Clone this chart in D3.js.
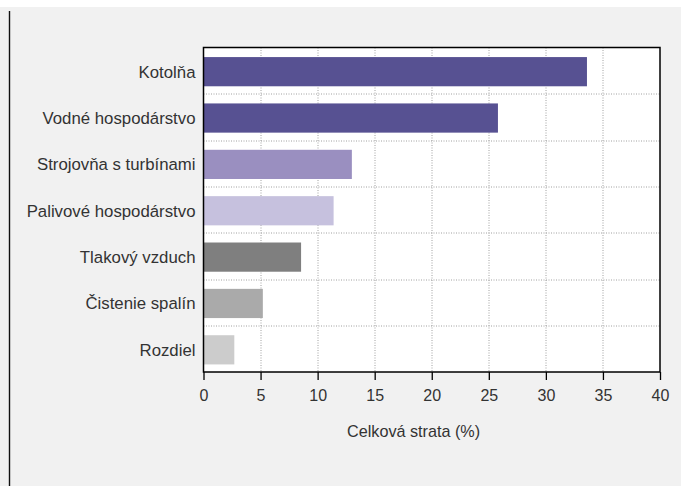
<!DOCTYPE html>
<html>
<head>
<meta charset="utf-8">
<script src="https://cdn.jsdelivr.net/npm/d3@7"></script>
<style>
  body { margin: 0; background: #fff; }
  text { font-family: "Liberation Sans", Arial, Helvetica, sans-serif; fill: #333; }
</style>
</head>
<body>
<div id="chart"></div>
<script>
// chart data
var categories = ["Kotolňa", "Vodné hospodárstvo", "Strojovňa s turbínami", "Palivové hospodárstvo",
  "Tlakový vzduch", "Čistenie spalín", "Rozdiel"];
var values = [33.6, 25.8, 13.0, 11.4, 8.55, 5.2, 2.7];
var barColors = ["#575192", "#575192", "#9a8fc0", "#c6c1de", "#7f7f7f", "#aaaaaa", "#cccccc"];
var xTicks = [0, 5, 10, 15, 20, 25, 30, 35, 40];
var xTitle = "Celková strata (%)";

var svgWidth = 681;
var svgHeight = 486;

var margin = { top: 47.5, right: 21, bottom: 114, left: 203.5 };
var chartWidth = svgWidth - margin.left - margin.right;
var chartHeight = svgHeight - margin.top - margin.bottom;

var svg = d3.select("#chart")
  .append("svg")
  .attr("width", svgWidth)
  .attr("height", svgHeight);

// panel background
svg.append("rect")
  .attr("x", 0)
  .attr("y", 7)
  .attr("width", svgWidth)
  .attr("height", svgHeight - 7)
  .attr("fill", "#f1f1f1");

// left rule
svg.append("line")
  .attr("x1", 9.5).attr("x2", 9.5)
  .attr("y1", 11).attr("y2", svgHeight)
  .attr("stroke", "#111")
  .attr("stroke-width", 1.4);

var chartGroup = svg.append("g")
  .attr("transform", `translate(${margin.left}, ${margin.top})`);

var xScale = d3.scaleLinear()
  .domain([0, 40])
  .range([0, chartWidth]);

var yScale = d3.scaleBand()
  .domain(categories)
  .range([0, chartHeight])
  .paddingInner(0.37)
  .paddingOuter(0.185);

// plot background
chartGroup.append("rect")
  .attr("width", chartWidth)
  .attr("height", chartHeight)
  .attr("fill", "#fff");

// vertical grid
chartGroup.selectAll(".vgrid")
  .data(xTicks.slice(1, -1))
  .enter()
  .append("line")
  .attr("x1", d => Math.round(xScale(d)) + 0.5)
  .attr("x2", d => Math.round(xScale(d)) + 0.5)
  .attr("y1", 0)
  .attr("y2", chartHeight)
  .attr("stroke", "#a0a0a0")
  .attr("stroke-dasharray", "1,1.5");

// horizontal grid at band boundaries
var step = yScale.step();
var hLines = d3.range(1, categories.length);
chartGroup.selectAll(".hgrid")
  .data(hLines)
  .enter()
  .append("line")
  .attr("x1", 0)
  .attr("x2", chartWidth)
  .attr("y1", d => Math.round(d * step) + 0.5)
  .attr("y2", d => Math.round(d * step) + 0.5)
  .attr("stroke", "#a0a0a0")
  .attr("stroke-dasharray", "1,1.5");

// bars
chartGroup.selectAll(".bar")
  .data(values)
  .enter()
  .append("rect")
  .attr("x", 0)
  .attr("y", (d, i) => yScale(categories[i]) + 1)
  .attr("width", d => xScale(d))
  .attr("height", yScale.bandwidth())
  .attr("fill", (d, i) => barColors[i]);

// frame
chartGroup.append("rect")
  .attr("width", chartWidth)
  .attr("height", chartHeight)
  .attr("fill", "none")
  .attr("stroke", "#000")
  .attr("stroke-width", 1.5);

// x axis
var bottomAxis = d3.axisBottom(xScale)
  .tickValues(xTicks)
  .tickSize(8)
  .tickPadding(10)
  .tickFormat(d3.format("d"));

var xAxis = chartGroup.append("g")
  .attr("transform", `translate(0, ${chartHeight})`)
  .call(bottomAxis);
xAxis.select(".domain").remove();
xAxis.selectAll(".tick line").attr("stroke", "#000").attr("stroke-width", 1.3);
xAxis.selectAll(".tick text")
  .style("font-size", "16px")
  .style("font-family", "'Liberation Sans', Arial, sans-serif")
  .attr("fill", "#333");

// category labels
chartGroup.selectAll(".catLabel")
  .data(categories)
  .enter()
  .append("text")
  .attr("x", -8)
  .attr("y", d => yScale(d) + yScale.bandwidth() / 2 + 1)
  .attr("dy", "0.35em")
  .attr("text-anchor", "end")
  .style("font-size", "16.8px")
  .text(d => d);

// axis title
chartGroup.append("text")
  .attr("x", 143.5)
  .attr("y", chartHeight + 65)
  .attr("text-anchor", "start")
  .style("font-size", "16.2px")
  .text(xTitle);
</script>
</body>
</html>
